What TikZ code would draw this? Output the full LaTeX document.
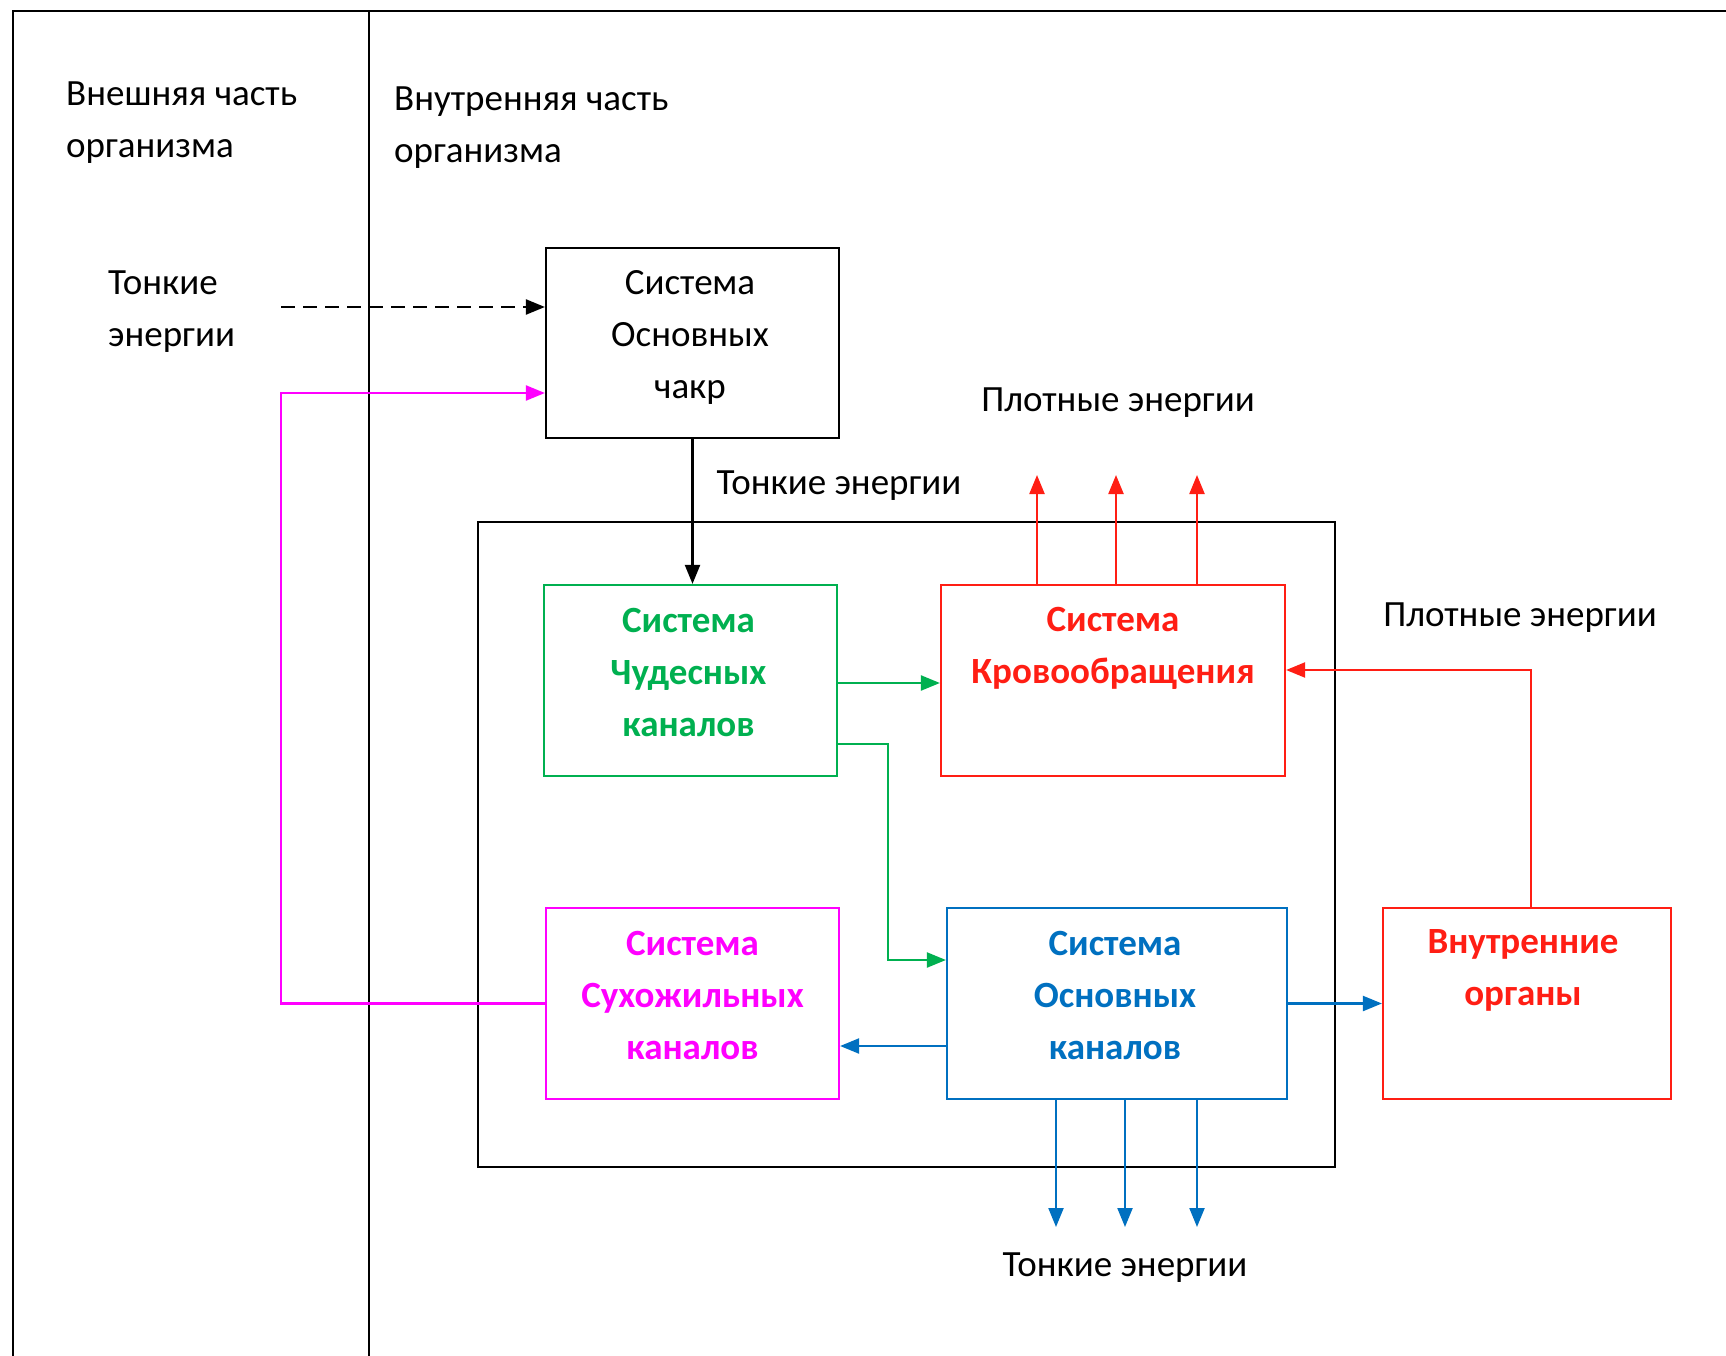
\documentclass[tikz,border=0pt]{standalone}
\usepackage{fontspec}
\setmainfont{Carlito}
\usetikzlibrary{arrows.meta}
\definecolor{cgreen}{RGB}{0,176,80}
\definecolor{cred}{RGB}{255,30,20}
\definecolor{cmag}{RGB}{255,0,255}
\definecolor{cblue}{RGB}{0,112,192}
\tikzset{
  boxstyle/.style={draw, line width=2.2pt, minimum height=191pt, inner sep=0pt},
  txt/.style={inner sep=0pt, font=\fontsize{37}{52}\selectfont, align=center},
  txtl/.style={inner sep=0pt, font=\fontsize{37}{52}\selectfont, align=left, anchor=west},
  btxt/.style={txt, font=\fontsize{37}{52}\selectfont\bfseries},
  conn/.style={line width=2.2pt},
  arr/.style={conn, -{Triangle[length=19pt,width=15pt]}},
}
\begin{document}
\begin{tikzpicture}[x=1pt,y=-1pt]
\useasboundingbox (0,0) rectangle (1726,1356);
% frame
\draw[line width=2.6pt] (1726,11) -- (13,11) -- (13,1356);
\draw[line width=2.4pt] (369,11) -- (369,1356);
% labels
\node[txtl] (outer) at (66,123) {Внешняя часть\\организма};
\node[txtl] (innerlbl) at (394,128) {Внутренняя часть\\организма};
\node[txtl] (tonk1) at (108,311.5) {Тонкие\\энергии};
\node[txt] (plot1) at (1118,403) {Плотные энергии};
\node[txt] (tonk2) at (839,486) {Тонкие энергии};
\node[txt] (plot2) at (1520,618) {Плотные энергии};
\node[txt] (tonk3) at (1125,1268) {Тонкие энергии};
% inner big box
\node[draw, line width=2.6pt, minimum width=857pt, minimum height=645pt, inner sep=0pt] (inner) at (906.5,844.5) {};
% boxes
\node[boxstyle, minimum width=293pt, minimum height=190pt] (chakra) at (692.5,343) {};
\node[txt] at (690,337) {Система\\Основных\\чакр};
\node[boxstyle, draw=cgreen, minimum width=293pt] (green) at (690.5,680.5) {};
\node[btxt, text=cgreen] at (688.5,672) {Система\\Чудесных\\каналов};
\node[boxstyle, draw=cred, minimum width=344pt] (krov) at (1113,680.5) {};
\node[btxt, text=cred] at (1113,648) {Система\\Кровообращения};
\node[boxstyle, draw=cmag, minimum width=293pt] (suh) at (692.5,1003.5) {};
\node[btxt, text=cmag] at (692.5,995) {Система\\Сухожильных\\каналов};
\node[boxstyle, draw=cblue, minimum width=340pt] (blue) at (1117,1003.5) {};
\node[btxt, text=cblue] at (1115,995) {Система\\Основных\\каналов};
\node[boxstyle, draw=cred, minimum width=288pt] (org) at (1527,1003.5) {};
\node[btxt, text=cred] at (1523,970) {Внутренние\\органы};
% coordinates
\coordinate (tin) at (281,307);
\coordinate (mtop) at (281,393);
\coordinate (g2a) at (888,744);
\coordinate (g2b) at (888,960);
\coordinate (r1) at (1037,475);
\coordinate (r2) at (1116,475);
\coordinate (r3) at (1197,475);
\coordinate (b1) at (1056,1227);
\coordinate (b2) at (1125,1227);
\coordinate (b3) at (1197,1227);
\coordinate (bm) at (900,1046);
\coordinate (rk) at (1531,670);
% connectors
\draw[arr, dash pattern=on 14pt off 8pt] (tin) -- (tin -| chakra.west);
\draw[arr, cmag] (suh.west) -| (mtop) -- (mtop -| chakra.west);
\draw[arr] (chakra.south) -- (chakra.south |- green.north);
\draw[arr, cgreen] (green.east |- 0,683) -- (krov.west |- 0,683);
\draw[arr, cgreen] (g2a -| green.east) -- (g2a) -- (g2b) -- (g2b -| blue.west);
\draw[arr, cred] (r1 |- krov.north) -- (r1);
\draw[arr, cred] (r2 |- krov.north) -- (r2);
\draw[arr, cred] (r3 |- krov.north) -- (r3);
\draw[arr, cblue] (b1 |- blue.south) -- (b1);
\draw[arr, cblue] (b2 |- blue.south) -- (b2);
\draw[arr, cblue] (b3 |- blue.south) -- (b3);
\draw[arr, cblue] (bm -| blue.west) -- (bm -| suh.east);
\draw[arr, cblue] (blue.east) -- (org.west);
\draw[arr, cred] (rk |- org.north) -- (rk) -- (rk -| krov.east);
\end{tikzpicture}
\end{document}
